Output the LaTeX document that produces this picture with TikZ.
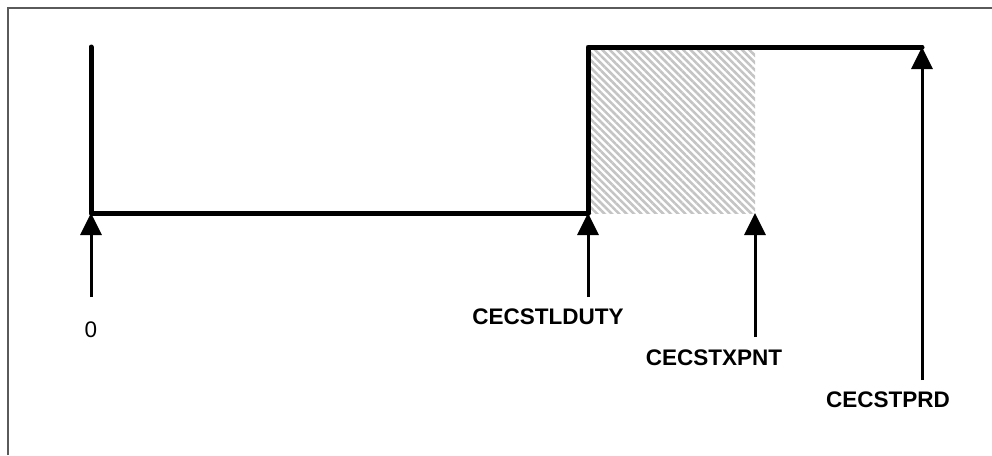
\documentclass[tikz,border=0pt]{standalone}
\usepackage{fontspec}
\setmainfont{Liberation Sans}
\usepackage{tikz}
\usepackage{xcolor}
\usetikzlibrary{arrows.meta,positioning,patterns.meta}
\definecolor{framegray}{RGB}{90,90,90}
\definecolor{hatchgray}{RGB}{196,196,196}

\begin{document}
\begin{tikzpicture}[x=1pt, y=-1pt, >={Triangle[length=22pt,width=21pt]},
  wave/.style={line width=5pt, line cap=round, line join=round},
  mark arrow/.style={->, line width=3pt},
  lbl/.style={font=\fontsize{22.5}{26}\selectfont\bfseries, inner sep=0pt},
  every node/.style={font=\fontsize{22.5}{26}\selectfont}]
\useasboundingbox (0,0) rectangle (992,455);
% frame (top and left only)
\draw[framegray, line width=2pt] (8,455) -- (8,8) -- (992,8);
% hatched expiry window
\fill[pattern={Lines[angle=-45,distance=5.2pt,line width=2.6pt]}, pattern color=hatchgray] (590,49) rectangle (755,213);
% waveform
\coordinate (start) at (91,47);
\coordinate (zero) at (91,213);
\coordinate (lduty) at (588,213);
\coordinate (rise) at (588,47);
\coordinate (xpnt) at (755,213);
\coordinate (prd) at (922,47);
\draw[wave] (start) -- (zero) -- (lduty) -- (rise) -- (prd);
% labels
\node[inner sep=0pt] (zerolbl) at (91,330) {0};
\node[lbl] (ldutylbl) at (548,317) {CECSTLDUTY};
\node[lbl] (xpntlbl) at (714,358) {CECSTXPNT};
\node[lbl] (prdlbl) at (888,400) {CECSTPRD};
% arrow tails
\coordinate (zerotail) at (91,297);
\coordinate (ldutytail) at (588,297);
\coordinate (xpnttail) at (755,337);
\coordinate (prdtail) at (922,380);
\draw[mark arrow] (zerotail) -- (zero);
\draw[mark arrow] (ldutytail) -- (lduty);
\draw[mark arrow] (xpnttail) -- (xpnt);
\draw[mark arrow] (prdtail) -- (prd);
\end{tikzpicture}
\end{document}
